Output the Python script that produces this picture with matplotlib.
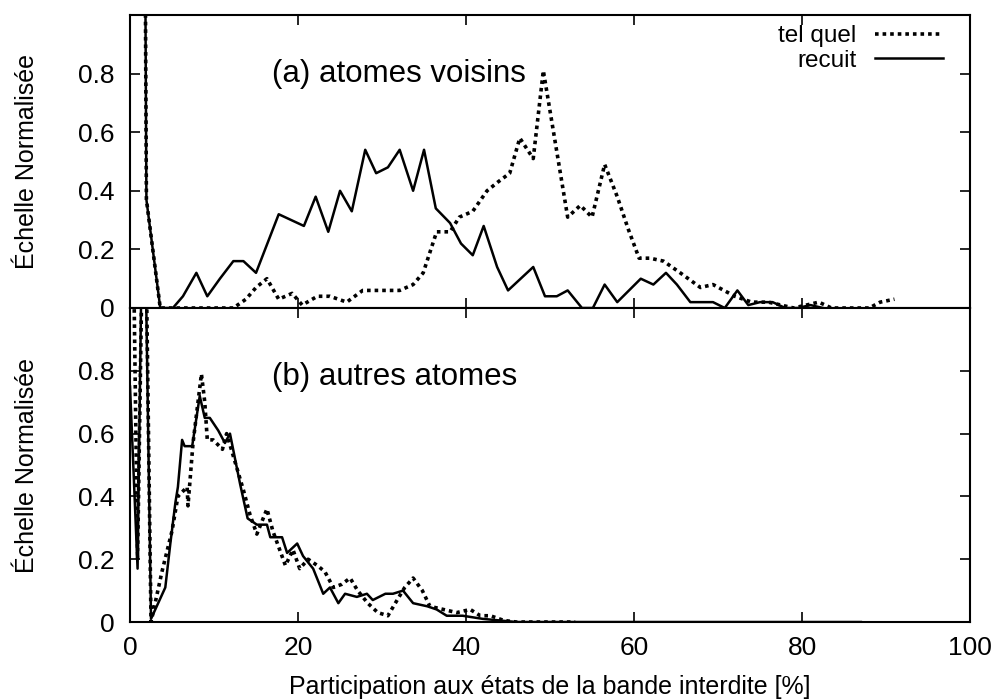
import numpy as np
import matplotlib
matplotlib.use("Agg")
import matplotlib.pyplot as plt
from matplotlib.ticker import FixedLocator, FuncFormatter

plt.rcParams['font.family'] = ['Liberation Sans', 'DejaVu Sans']

# (a) atomes voisins
a_telquel_x = [0.3, 1.95, 3.6, 5.0, 6.5, 8.0, 9.5, 11.0, 12.3, 13.8, 15.0, 16.3, 17.7, 19.3, 20.5,
               22.3, 23.8, 25.8, 27.7, 29.2, 30.6, 32.1, 33.7, 34.9, 36.5, 38.1, 39.2, 40.8, 42.5,
               43.8, 45.2, 46.4, 48.0, 49.2, 52.1, 53.6, 55.0, 56.5, 58.0, 59.3, 60.6, 61.9, 63.5,
               65.5, 67.9, 69.4, 72.0, 74.0, 76.0, 77.5, 79.0, 80.5, 82.0, 83.5, 85.0, 86.5, 88.0,
               89.3, 91.0]
a_telquel_y = [10.0, 0.37, 0.0, 0.0, 0.0, 0.0, 0.0, 0.0, 0.0, 0.03, 0.07, 0.10, 0.03, 0.05, 0.01,
               0.04, 0.04, 0.02, 0.06, 0.06, 0.06, 0.06, 0.08, 0.12, 0.26, 0.26, 0.31, 0.33, 0.40,
               0.43, 0.46, 0.58, 0.51, 0.81, 0.31, 0.35, 0.31, 0.49, 0.38, 0.27, 0.17, 0.17, 0.16,
               0.12, 0.07, 0.08, 0.04, 0.02, 0.02, 0.01, 0.0, 0.01, 0.02, 0.0, 0.0, 0.0, 0.0,
               0.02, 0.03]

a_recuit_x = [0.3, 1.95, 3.6, 5.1, 6.3, 7.9, 9.2, 10.7, 12.3, 13.5, 15.0, 17.7, 20.7, 22.1, 23.6,
              25.0, 26.4, 28.0, 29.3, 30.7, 32.1, 33.7, 35.0, 36.4, 38.1, 39.4, 40.8, 42.1, 43.7,
              45.0, 46.5, 48.0, 49.4, 50.8, 52.1, 53.8, 55.1, 56.5, 58.0, 59.4, 60.8, 62.3, 63.8,
              65.1, 66.7, 68.0, 69.4, 70.8, 72.3, 73.6, 75.0, 76.5, 78.0, 79.5, 81.0, 82.5]
a_recuit_y = [10.0, 0.37, 0.0, 0.0, 0.04, 0.12, 0.04, 0.10, 0.16, 0.16, 0.12, 0.32, 0.28, 0.38, 0.26,
              0.40, 0.33, 0.54, 0.46, 0.48, 0.54, 0.40, 0.54, 0.34, 0.29, 0.22, 0.18, 0.28, 0.14,
              0.06, 0.10, 0.14, 0.04, 0.04, 0.06, 0.0, 0.0, 0.08, 0.02, 0.06, 0.10, 0.08, 0.12,
              0.08, 0.02, 0.02, 0.02, 0.0, 0.06, 0.01, 0.02, 0.02, 0.0, 0.0, 0.01, 0.0]

# (b) autres atomes
b_telquel_x = [0.2, 0.9, 1.7, 2.5, 3.8, 5.0, 5.7, 6.8, 6.9, 7.5, 8.5, 8.9, 9.2, 9.9, 11.0, 11.5,
               12.5, 13.5, 14.3, 15.1, 16.3, 17.0, 18.5, 19.4, 20.2, 21.2, 22.3, 23.2, 24.2, 25.2,
               26.2, 27.1, 28.3, 29.5, 30.7, 31.8, 32.7, 33.7, 34.8, 35.7, 37.3, 38.9, 40.5, 41.7,
               42.9, 44.5, 46.0, 48.0, 50.0, 52.0, 53.0]
b_telquel_y = [1.6, 0.2, 1.6, 0.0, 0.16, 0.29, 0.40, 0.43, 0.37, 0.57, 0.79, 0.70, 0.58, 0.58, 0.55, 0.60,
               0.51, 0.42, 0.34, 0.28, 0.36, 0.29, 0.18, 0.23, 0.17, 0.20, 0.18, 0.16, 0.11, 0.12,
               0.14, 0.10, 0.06, 0.03, 0.02, 0.07, 0.11, 0.14, 0.10, 0.05, 0.04, 0.03, 0.04, 0.02,
               0.02, 0.005, 0.0, 0.0, 0.0, 0.0, 0.0]

b_recuit_x = [0.0, 0.9, 1.6, 2.5, 4.2, 4.8, 5.4, 5.7, 6.2, 6.5, 7.4, 8.3, 8.9, 9.5, 10.5, 11.3,
              11.9, 13.1, 14.0, 15.1, 16.3, 16.7, 18.1, 18.7, 19.9, 20.6, 21.8, 23.0, 23.8, 24.8,
              25.6, 27.0, 28.2, 28.9, 30.4, 31.3, 32.5, 33.7, 35.4, 36.5, 37.7, 39.6, 42.0, 44.0,
              46.0, 50.0, 55.0, 60.0, 65.0, 70.0, 75.0, 80.0, 87.0]
b_recuit_y = [0.75, 0.17, 1.6, 0.01, 0.11, 0.25, 0.38, 0.43, 0.58, 0.56, 0.56, 0.72, 0.65, 0.65, 0.61, 0.57,
              0.60, 0.44, 0.33, 0.31, 0.31, 0.27, 0.27, 0.22, 0.25, 0.21, 0.17, 0.09, 0.11, 0.06,
              0.09, 0.08, 0.09, 0.07, 0.09, 0.09, 0.10, 0.06, 0.05, 0.04, 0.02, 0.02, 0.01, 0.005,
              0.0, 0.0, 0.0, 0.0, 0.0, 0.0, 0.0, 0.0, 0.0]

y_ticks = [0, 0.2, 0.4, 0.6, 0.8]
x_ticks = [0, 20, 40, 60, 80, 100]

dotted = (0, (1, 1.1))

fig = plt.figure(figsize=(10.04, 7.0), dpi=100)
ax1 = fig.add_axes([0.1295, 0.56, 0.8367, 0.4186])
ax2 = fig.add_axes([0.1295, 0.1114, 0.8367, 0.4486])

ax1.plot(a_telquel_x, a_telquel_y, color='black', lw=2.6, ls=dotted, label='tel quel')
ax1.plot(a_recuit_x, a_recuit_y, color='black', lw=1.8, label='recuit')
ax2.plot(b_telquel_x, b_telquel_y, color='black', lw=2.6, ls=dotted)
ax2.plot(b_recuit_x, b_recuit_y, color='black', lw=1.8)

ax1.text(16.9, 0.8, '(a) atomes voisins', fontsize=22.5, va='center')
ax2.text(16.9, 0.78, '(b) autres atomes', fontsize=22.5, va='center')

leg = ax1.legend(loc='upper right', frameon=False, markerfirst=False, fontsize=17.5,
                 handlelength=2.8, handletextpad=0.75, labelspacing=0.1,
                 borderaxespad=0.3, borderpad=0.3, bbox_to_anchor=(0.985, 1.015))

fmt = FuncFormatter(lambda v, p: '0' if v == 0 else '%.1f' % v)
for ax in (ax1, ax2):
    ax.set_xlim(0, 100)
    ax.set_ylim(0, 1)
    ax.yaxis.set_major_locator(FixedLocator(y_ticks))
    ax.yaxis.set_major_formatter(fmt)
    ax.xaxis.set_major_locator(FixedLocator(x_ticks))
    ax.tick_params(direction='in', length=7, width=1.2, top=True, right=True,
                   labelsize=19)
    ax.tick_params(axis='y', pad=11)
    ax.tick_params(axis='x', pad=10)
    for s in ax.spines.values():
        s.set_linewidth(1.5)
    ax.set_ylabel('Échelle Normalisée', fontsize=18, labelpad=28)

ax1.tick_params(labelbottom=False)
ax2.set_xlabel('Participation aux états de la bande interdite [%]', fontsize=18, labelpad=11)

fig.savefig('out.png', dpi=100)
